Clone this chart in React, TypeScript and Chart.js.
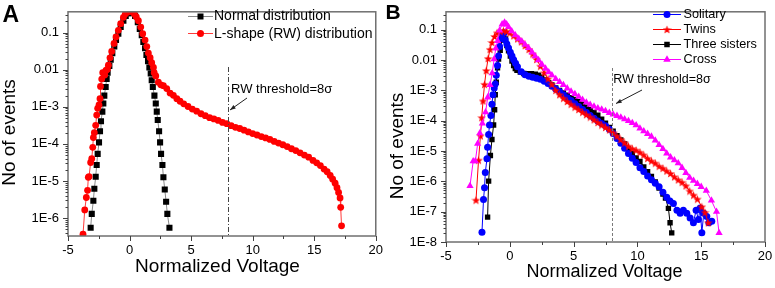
import React, { useEffect, useRef } from 'react';
import { Chart, registerables } from 'chart.js';

Chart.register(...registerables);

const FONT = "'Liberation Sans', Arial, Helvetica, sans-serif";

// ---------- Panel A data: [normalized voltage, events] ----------
const normalPoints: [number, number][] = [
  [-3.16, 5.5e-7], [-3.07, 1.3e-6], [-2.94, 2.95e-6], [-2.86, 6.2e-6], [-2.75, 1.3e-5],
  [-2.67, 2.7e-5], [-2.59, 5.4e-5], [-2.48, 1.1e-4], [-2.4, 2.2e-4], [-2.32, 4.1e-4],
  [-2.21, 7.4e-4], [-2.13, 1.23e-3], [-2.05, 2.0e-3], [-1.94, 3.4e-3], [-1.86, 5.6e-3],
  [-1.78, 8.3e-3], [-1.64, 0.0126], [-1.53, 0.0186], [-1.4, 0.028], [-1.24, 0.042],
  [-1.1, 0.063], [-0.91, 0.093], [-0.72, 0.141], [-0.5, 0.209], [-0.31, 0.282],
  [-0.15, 0.331], [0.04, 0.347], [0.2, 0.331], [0.45, 0.282], [0.67, 0.19],
  [0.83, 0.126], [0.99, 0.085], [1.12, 0.056], [1.26, 0.038], [1.37, 0.025],
  [1.5, 0.017], [1.61, 0.0115], [1.72, 7.9e-3], [1.8, 5.2e-3], [1.89, 3.4e-3],
  [2.02, 2.0e-3], [2.13, 1.23e-3], [2.21, 7.4e-4], [2.29, 4.4e-4], [2.4, 2.2e-4],
  [2.48, 1.1e-4], [2.56, 5.4e-5], [2.67, 2.7e-5], [2.75, 1.26e-5], [2.86, 5.9e-6],
  [2.97, 2.75e-6], [3.07, 1.3e-6], [3.24, 5.5e-7],
];

const rwPoints: [number, number][] = [
  [-3.78, 3.7e-7], [-3.64, 1.66e-6], [-3.51, 3.6e-6], [-3.41, 5.6e-6], [-3.35, 1.26e-5],
  [-3.29, 1.32e-5], [-3.16, 3.16e-5], [-3.07, 4.0e-5], [-2.99, 8.1e-5], [-2.94, 1.48e-4],
  [-2.86, 2.0e-4], [-2.75, 3.16e-4], [-2.67, 6.0e-4], [-2.59, 9.1e-4], [-2.48, 1.12e-3],
  [-2.4, 1.66e-3], [-2.36, 3.55e-3], [-2.26, 5.6e-3], [-2.18, 8.3e-3], [-2.02, 7.2e-3],
  [-1.92, 9.5e-3], [-1.8, 0.0102], [-1.72, 0.0132], [-1.59, 0.0209], [-1.45, 0.031],
  [-1.26, 0.051], [-1.1, 0.076], [-0.91, 0.115], [-0.72, 0.174], [-0.5, 0.257],
  [-0.35, 0.316], [-0.2, 0.355], [0.0, 0.38], [0.2, 0.363], [0.39, 0.316],
  [0.55, 0.263], [0.72, 0.209], [0.91, 0.141], [1.07, 0.093], [1.26, 0.063],
  [1.4, 0.042], [1.53, 0.028], [1.67, 0.021], [1.8, 0.0155], [1.94, 0.0115],
  [2.0, 8.3e-3], [2.13, 6.8e-3], [2.34, 4.6e-3], [2.54, 3.9e-3], [2.75, 3.7e-3],
  [3.02, 3.1e-3], [3.29, 2.34e-3], [3.56, 2.04e-3], [3.84, 1.66e-3], [4.1, 1.41e-3],
  [4.4, 1.2e-3], [4.75, 1.02e-3], [5.1, 8.7e-4], [5.45, 7.6e-4], [5.8, 6.5e-4],
  [6.15, 5.75e-4], [6.5, 5.1e-4], [6.85, 4.7e-4], [7.2, 4.3e-4], [7.55, 3.8e-4],
  [7.9, 3.5e-4], [8.25, 3.1e-4], [8.6, 2.8e-4], [8.95, 2.6e-4], [9.3, 2.34e-4],
  [9.65, 2.1e-4], [10.0, 1.9e-4], [10.35, 1.74e-4], [10.7, 1.58e-4], [11.05, 1.45e-4],
  [11.4, 1.32e-4], [11.75, 1.17e-4], [12.1, 1.05e-4], [12.45, 9.5e-5], [12.8, 8.5e-5],
  [13.15, 7.4e-5], [13.5, 6.6e-5], [13.85, 5.75e-5], [14.2, 5.0e-5], [14.55, 4.4e-5],
  [14.9, 3.6e-5], [15.2, 3.1e-5], [15.5, 2.6e-5], [15.8, 2.1e-5], [16.05, 1.78e-5],
  [16.3, 1.41e-5], [16.5, 1.12e-5], [16.7, 8.7e-6], [16.85, 6.6e-6], [16.98, 4.9e-6],
  [17.1, 3.5e-6], [17.15, 1.95e-6], [17.22, 6.2e-7],
];

// ---------- Panel B data ----------
const solitaryPoints: [number, number][] = [
  [-2.18, 2.1e-8], [-2.06, 2.5e-7], [-1.98, 6.2e-7], [-1.92, 1.95e-6], [-1.79, 5.6e-6],
  [-1.74, 1.32e-5], [-1.66, 3.5e-5], [-1.59, 7.2e-5], [-1.48, 1.48e-4], [-1.4, 3.5e-4],
  [-1.32, 7.2e-4], [-1.22, 1.2e-3], [-1.14, 1.62e-3], [-1.06, 3.16e-3], [-0.96, 6.6e-3],
  [-0.88, 0.0135], [-0.8, 0.028], [-0.67, 0.051], [-0.57, 0.074], [-0.45, 0.079],
  [-0.36, 0.046], [-0.23, 0.034], [-0.1, 0.025], [0.04, 0.018], [0.17, 0.0135],
  [0.3, 0.0102], [0.45, 7.9e-3], [0.6, 6.0e-3], [0.9, 4.1e-3], [1.2, 3.3e-3],
  [1.5, 2.95e-3], [1.8, 2.7e-3], [2.1, 2.5e-3], [2.4, 2.34e-3], [2.7, 2.0e-3],
  [3.0, 1.7e-3], [3.3, 1.38e-3], [3.6, 1.12e-3], [3.9, 9.1e-4], [4.2, 7.2e-4],
  [4.5, 5.75e-4], [4.8, 4.6e-4], [5.1, 3.6e-4], [5.4, 2.95e-4], [5.7, 2.34e-4],
  [6.0, 1.86e-4], [6.3, 1.48e-4], [6.6, 1.2e-4], [6.9, 9.8e-5], [7.2, 8.1e-5],
  [7.5, 6.8e-5], [7.8, 5.25e-5], [8.1, 3.8e-5], [8.4, 2.6e-5], [8.7, 1.82e-5],
  [9.0, 1.23e-5], [9.3, 8.3e-6], [9.6, 5.75e-6], [9.9, 4.2e-6], [10.2, 2.8e-6],
  [10.5, 2.1e-6], [10.8, 1.51e-6], [11.1, 1.12e-6], [11.4, 8.7e-7], [11.7, 6.6e-7],
  [12.0, 4.4e-7], [12.3, 3.0e-7], [12.55, 2.24e-7], [12.82, 1.86e-7], [13.1, 1.12e-7],
  [13.35, 8.9e-8], [13.6, 1.12e-7], [13.87, 8.9e-8], [14.13, 6.2e-8], [14.39, 4.3e-8],
  [14.6, 1.12e-7], [14.78, 5.5e-8], [14.92, 1.32e-7], [15.05, 2.0e-8], [15.2, 8.9e-8],
  [15.44, 6.9e-8], [15.6, 4.3e-8], [15.83, 4.8e-8],
];

const twinsPoints: [number, number][] = [
  [-2.65, 2.4e-7], [-2.45, 5.0e-6], [-2.3, 3.16e-5], [-2.2, 1.26e-4], [-2.1, 4.5e-4],
  [-1.98, 1.58e-3], [-1.85, 4.5e-3], [-1.7, 0.0112], [-1.55, 0.0224], [-1.4, 0.038],
  [-1.2, 0.06], [-1.0, 0.079], [-0.75, 0.089], [-0.5, 0.093], [-0.25, 0.089],
  [0.0, 0.079], [0.3, 0.063], [0.6, 0.05], [0.9, 0.04], [1.2, 0.03],
  [1.5, 0.0224], [1.8, 0.0158], [2.1, 0.0105], [2.4, 6.3e-3], [2.7, 3.8e-3],
  [3.0, 2.4e-3], [3.3, 1.58e-3], [3.6, 1.0e-3], [3.9, 7.2e-4], [4.2, 5.5e-4],
  [4.5, 4.3e-4], [4.8, 3.5e-4], [5.1, 2.8e-4], [5.4, 2.34e-4], [5.7, 1.9e-4],
  [6.0, 1.58e-4], [6.3, 1.32e-4], [6.6, 1.07e-4], [6.9, 8.7e-5], [7.2, 7.2e-5],
  [7.5, 6.0e-5], [7.8, 5.0e-5], [8.1, 4.0e-5], [8.4, 3.1e-5], [8.7, 2.4e-5],
  [9.0, 1.86e-5], [9.3, 1.45e-5], [9.6, 1.2e-5], [9.9, 1.07e-5], [10.2, 9.1e-6],
  [10.5, 7.4e-6], [10.8, 5.75e-6], [11.1, 4.7e-6], [11.4, 4.0e-6], [11.7, 3.16e-6],
  [12.0, 2.7e-6], [12.3, 2.2e-6], [12.6, 1.82e-6], [12.9, 1.41e-6], [13.2, 1.12e-6],
  [13.5, 9.3e-7], [13.8, 7.1e-7], [14.1, 4.8e-7], [14.4, 3.5e-7], [14.7, 2.6e-7],
  [15.05, 1.45e-7], [15.3, 9.5e-8], [15.55, 4.3e-8],
];

const threeSistersPoints: [number, number][] = [
  [-1.74, 6.6e-8], [-1.66, 1.02e-6], [-1.52, 7.1e-6], [-1.4, 2.4e-5], [-1.27, 7.2e-5],
  [-1.19, 2.3e-4], [-1.14, 7.2e-4], [-1.06, 1.86e-3], [-0.96, 5.5e-3], [-0.88, 0.0107],
  [-0.75, 0.021], [-0.61, 0.046], [-0.54, 0.066], [-0.45, 0.079], [-0.33, 0.05],
  [-0.23, 0.03], [-0.1, 0.02], [0.04, 0.0135], [0.17, 9.3e-3], [0.3, 6.6e-3],
  [0.43, 5.25e-3], [0.56, 4.6e-3], [0.82, 4.0e-3], [1.1, 3.6e-3], [1.4, 3.55e-3],
  [1.7, 3.55e-3], [2.0, 3.4e-3], [2.25, 3.16e-3], [2.5, 2.7e-3], [2.77, 2.2e-3],
  [3.05, 1.78e-3], [3.3, 1.51e-3], [3.6, 1.2e-3], [3.9, 1.0e-3], [4.2, 8.3e-4],
  [4.5, 6.9e-4], [4.8, 5.75e-4], [5.1, 5.0e-4], [5.4, 4.2e-4], [5.7, 3.5e-4],
  [6.0, 2.8e-4], [6.3, 2.3e-4], [6.6, 1.86e-4], [6.9, 1.51e-4], [7.2, 1.12e-4],
  [7.5, 8.3e-5], [7.8, 6.0e-5], [8.1, 4.5e-5], [8.4, 3.2e-5], [8.7, 2.34e-5],
  [9.0, 1.7e-5], [9.3, 1.17e-5], [9.6, 8.3e-6], [9.9, 5.9e-6], [10.2, 4.5e-6],
  [10.5, 3.0e-6], [10.8, 2.1e-6], [11.1, 1.45e-6], [11.4, 9.5e-7], [11.7, 6.0e-7],
  [12.0, 3.8e-7], [12.2, 2.8e-7], [12.43, 1.29e-7], [12.56, 4.3e-8], [12.69, 2.0e-8],
];

const crossPoints: [number, number][] = [
  [-3.12, 7.1e-7], [-2.87, 4.6e-6], [-2.7, 4.6e-6], [-2.52, 1.74e-5], [-2.35, 3.9e-5],
  [-2.15, 8.1e-5], [-1.9, 1.9e-4], [-1.73, 5.9e-4], [-1.55, 1.51e-3], [-1.38, 3.7e-3],
  [-1.23, 0.0107], [-1.1, 0.024], [-0.95, 0.043], [-0.8, 0.095], [-0.6, 0.151],
  [-0.41, 0.174], [-0.25, 0.151], [-0.1, 0.123], [0.15, 0.089], [0.43, 0.066],
  [0.7, 0.051], [0.95, 0.041], [1.2, 0.032], [1.47, 0.025], [1.75, 0.018],
  [1.99, 0.0135], [2.25, 0.01], [2.52, 7.1e-3], [2.8, 5.25e-3], [3.05, 4.0e-3],
  [3.3, 3.16e-3], [3.6, 2.4e-3], [3.9, 1.9e-3], [4.2, 1.51e-3], [4.5, 1.17e-3],
  [4.8, 9.3e-4], [5.1, 7.6e-4], [5.4, 6.2e-4], [5.7, 4.9e-4], [6.0, 4.0e-4],
  [6.3, 3.4e-4], [6.6, 2.95e-4], [6.9, 2.6e-4], [7.2, 2.34e-4], [7.5, 2.1e-4],
  [7.8, 1.82e-4], [8.1, 1.62e-4], [8.4, 1.45e-4], [8.7, 1.29e-4], [9.0, 1.12e-4],
  [9.3, 9.8e-5], [9.6, 8.5e-5], [9.9, 7.1e-5], [10.2, 5.6e-5], [10.5, 4.5e-5],
  [10.8, 3.7e-5], [11.1, 3.0e-5], [11.4, 2.24e-5], [11.7, 1.58e-5], [12.0, 1.17e-5],
  [12.3, 8.3e-6], [12.6, 6.2e-6], [12.9, 5.0e-6], [13.2, 4.0e-6], [13.5, 2.8e-6],
  [13.8, 1.9e-6], [14.1, 1.32e-6], [14.4, 1.05e-6], [14.7, 8.3e-7], [15.0, 6.6e-7],
  [15.4, 4.9e-7], [15.8, 2.34e-7], [16.2, 1.0e-7], [16.4, 2.0e-8],
];

// ---------- axes / labels ----------
const xTickValues = [-5, 0, 5, 10, 15, 20];
const xMinorValues = [-2.5, 2.5, 7.5, 12.5, 17.5];
const yTickValuesA = [0.1, 0.01, 1e-3, 1e-4, 1e-5, 1e-6];
const yTickLabelsA = ['0.1', '0.01', '1E-3', '1E-4', '1E-5', '1E-6'];
const yTickValuesB = [0.1, 0.01, 1e-3, 1e-4, 1e-5, 1e-6, 1e-7, 1e-8];
const yTickLabelsB = ['0.1', '0.01', '1E-3', '1E-4', '1E-5', '1E-6', '1E-7', '1E-8'];
const xTitle = 'Normalized Voltage';
const yTitle = 'No of events';
const thresholdSigma = 8;
const thresholdText = 'RW threshold=8\u03c3';
const legendLabelsA = ['Normal distribution', 'L-shape (RW) distribution'];
const legendLabelsB = ['Solitary', 'Twins', 'Three sisters', 'Cross'];

type Pt = [number, number];
const toXY = (pts: Pt[]) => pts.map(([x, y]) => ({ x, y }));

function makeStar(size: number, color: string): HTMLCanvasElement {
  const c = document.createElement('canvas');
  c.width = size;
  c.height = size;
  const g = c.getContext('2d')!;
  const cx = size / 2;
  const cy = size / 2 + size * 0.05;
  const R = size / 2;
  const r = R * 0.42;
  g.beginPath();
  for (let i = 0; i < 10; i++) {
    const rad = i % 2 === 0 ? R : r;
    const a = -Math.PI / 2 + (i * Math.PI) / 5;
    const px = cx + rad * Math.cos(a);
    const py = cy + rad * Math.sin(a);
    if (i === 0) g.moveTo(px, py);
    else g.lineTo(px, py);
  }
  g.closePath();
  g.fillStyle = color;
  g.fill();
  return c;
}

interface MarkerSpec {
  style: string;
  color: string;
  size: number;
  lineColor: string;
  image?: HTMLCanvasElement;
}

function drawMarker(ctx: CanvasRenderingContext2D, m: MarkerSpec, x: number, y: number) {
  ctx.fillStyle = m.color;
  const s = m.size;
  if (m.style === 'circle') {
    ctx.beginPath();
    ctx.arc(x, y, s / 2, 0, Math.PI * 2);
    ctx.fill();
  } else if (m.style === 'rect') {
    ctx.fillRect(x - s / 2, y - s / 2, s, s);
  } else if (m.style === 'triangle') {
    const r = s / Math.sqrt(3);
    ctx.beginPath();
    ctx.moveTo(x, y - r);
    ctx.lineTo(x + s / 2, y + r / 2);
    ctx.lineTo(x - s / 2, y + r / 2);
    ctx.closePath();
    ctx.fill();
  } else if (m.style === 'star' && m.image) {
    ctx.drawImage(m.image, x - m.image.width / 2, y - m.image.height / 2);
  }
}

interface DecorSpec {
  letter: string;
  letterX: number;
  letterY: number;
  letterSize: number;
  yTitleX: number;
  yTitleY: number;
  xTitleX: number;
  xTitleY: number;
  titleSize: number;
  xTitleSize: number;
  legendX1: number;
  legendX2: number;
  legendTextX: number;
  legendYs: number[];
  legendLabels: string[];
  legendMarkers: MarkerSpec[];
  legendFont: number;
  thrTop: number;
  thrDash: number[];
  thrColor: string;
  thrTextX: number;
  thrTextY: number;
  thrFont: number;
  arrow: [number, number, number, number];
  yMajor: number[];
}

function decorPlugin(d: DecorSpec) {
  return {
    id: 'decor',
    afterDraw(chart: any) {
      const ctx: CanvasRenderingContext2D = chart.ctx;
      const ca = chart.chartArea;
      const xs = chart.scales.x;
      const ys = chart.scales.y;
      ctx.save();

      // frame
      ctx.strokeStyle = '#6f6f6f';
      ctx.lineWidth = 1.5;
      ctx.strokeRect(ca.left, ca.top, ca.right - ca.left, ca.bottom - ca.top);

      // ticks (outward)
      ctx.strokeStyle = '#404040';
      ctx.lineWidth = 1;
      ctx.beginPath();
      for (const v of xTickValues) {
        const px = Math.round(xs.getPixelForValue(v)) + 0.5;
        ctx.moveTo(px, ca.bottom);
        ctx.lineTo(px, ca.bottom + 5);
      }
      for (const v of xMinorValues) {
        const px = Math.round(xs.getPixelForValue(v)) + 0.5;
        ctx.moveTo(px, ca.bottom);
        ctx.lineTo(px, ca.bottom + 3);
      }
      for (const v of d.yMajor) {
        const py = Math.round(ys.getPixelForValue(v)) + 0.5;
        ctx.moveTo(ca.left, py);
        ctx.lineTo(ca.left - 5, py);
      }
      const lo = Math.floor(Math.log10(ys.min));
      const hi = Math.ceil(Math.log10(ys.max));
      for (let e = lo; e <= hi; e++) {
        for (let m = 2; m <= 9; m++) {
          const v = m * Math.pow(10, e);
          if (v < ys.min || v > ys.max) continue;
          const py = Math.round(ys.getPixelForValue(v)) + 0.5;
          ctx.moveTo(ca.left, py);
          ctx.lineTo(ca.left - 2.5, py);
        }
      }
      ctx.stroke();

      // panel letter
      ctx.fillStyle = '#000';
      ctx.font = `bold ${d.letterSize}px ${FONT}`;
      ctx.textAlign = 'left';
      ctx.textBaseline = 'alphabetic';
      ctx.fillText(d.letter, d.letterX, d.letterY);

      // axis titles
      ctx.font = `${d.xTitleSize}px ${FONT}`;
      ctx.textAlign = 'center';
      ctx.textBaseline = 'middle';
      ctx.fillText(xTitle, d.xTitleX, d.xTitleY);
      ctx.save();
      ctx.translate(d.yTitleX, d.yTitleY);
      ctx.rotate(-Math.PI / 2);
      ctx.font = `${d.titleSize}px ${FONT}`;
      ctx.fillText(yTitle, 0, 0);
      ctx.restore();

      // threshold line
      const tx = xs.getPixelForValue(thresholdSigma);
      ctx.save();
      ctx.strokeStyle = d.thrColor;
      ctx.lineWidth = 1;
      ctx.setLineDash(d.thrDash);
      ctx.beginPath();
      ctx.moveTo(Math.round(tx) + 0.5, d.thrTop);
      ctx.lineTo(Math.round(tx) + 0.5, ca.bottom);
      ctx.stroke();
      ctx.restore();

      // threshold text
      ctx.fillStyle = '#000';
      ctx.font = `${d.thrFont}px ${FONT}`;
      ctx.textAlign = 'left';
      ctx.textBaseline = 'middle';
      ctx.fillText(thresholdText, d.thrTextX, d.thrTextY);

      // arrow
      const [ax1, ay1, ax2, ay2] = d.arrow;
      ctx.strokeStyle = '#222';
      ctx.lineWidth = 1;
      ctx.beginPath();
      ctx.moveTo(ax1, ay1);
      ctx.lineTo(ax2, ay2);
      ctx.stroke();
      const ang = Math.atan2(ay2 - ay1, ax2 - ax1);
      const hl = 6;
      ctx.fillStyle = '#222';
      ctx.beginPath();
      ctx.moveTo(ax2, ay2);
      ctx.lineTo(ax2 - hl * Math.cos(ang - 0.35), ay2 - hl * Math.sin(ang - 0.35));
      ctx.lineTo(ax2 - hl * Math.cos(ang + 0.35), ay2 - hl * Math.sin(ang + 0.35));
      ctx.closePath();
      ctx.fill();

      // legend
      ctx.font = `${d.legendFont}px ${FONT}`;
      ctx.textAlign = 'left';
      ctx.textBaseline = 'middle';
      d.legendLabels.forEach((label, i) => {
        const y = d.legendYs[i];
        const m = d.legendMarkers[i];
        ctx.strokeStyle = m.lineColor;
        ctx.lineWidth = 1;
        ctx.beginPath();
        ctx.moveTo(d.legendX1, Math.round(y) + 0.5);
        ctx.lineTo(d.legendX2, Math.round(y) + 0.5);
        ctx.stroke();
        drawMarker(ctx, m, (d.legendX1 + d.legendX2) / 2, Math.round(y) + 0.5);
        ctx.fillStyle = '#000';
        ctx.fillText(label, d.legendTextX, y + 0.5);
      });

      ctx.restore();
    },
  };
}

function makeConfig(opts: {
  datasets: any[];
  yMin: number;
  yMax: number;
  yTicks: number[];
  yLabels: string[];
  yWidth: number;
  xHeight: number;
  padding: { left: number; right: number; top: number; bottom: number };
  decor: DecorSpec;
}): any {
  const tickFont = { family: FONT, size: 13 };
  return {
    type: 'line',
    data: { datasets: opts.datasets },
    options: {
      animation: false,
      responsive: false,
      maintainAspectRatio: false,
      devicePixelRatio: 1,
      events: [],
      layout: { padding: opts.padding },
      plugins: {
        legend: { display: false },
        tooltip: { enabled: false },
        title: { display: false },
      },
      scales: {
        x: {
          type: 'linear',
          min: -5,
          max: 20,
          ticks: {
            font: tickFont,
            color: '#000',
            padding: 2,
            maxRotation: 0,
            autoSkip: false,
            callback: (v: number) => String(v),
          },
          grid: {
            display: true,
            drawOnChartArea: false,
            drawTicks: true,
            tickLength: 5,
            color: 'rgba(0,0,0,0)',
          },
          border: { display: false },
          afterBuildTicks: (s: any) => {
            s.ticks = xTickValues.map((value) => ({ value }));
          },
          afterFit: (s: any) => {
            s.height = opts.xHeight;
          },
        },
        y: {
          type: 'logarithmic',
          min: opts.yMin,
          max: opts.yMax,
          ticks: {
            font: tickFont,
            color: '#000',
            padding: 4,
            autoSkip: false,
            callback: (_v: number, i: number) => opts.yLabels[i],
          },
          grid: {
            display: true,
            drawOnChartArea: false,
            drawTicks: true,
            tickLength: 5,
            color: 'rgba(0,0,0,0)',
          },
          border: { display: false },
          afterBuildTicks: (s: any) => {
            s.ticks = opts.yTicks.map((value) => ({ value }));
          },
          afterFit: (s: any) => {
            s.width = opts.yWidth;
          },
        },
      },
    },
    plugins: [decorPlugin(opts.decor)],
  };
}

function ChartCanvas(props: { left: number; width: number; height: number; build: () => any }) {
  const ref = useRef<HTMLCanvasElement>(null);
  useEffect(() => {
    const chart = new Chart(ref.current as HTMLCanvasElement, props.build());
    return () => chart.destroy();
  }, []);
  return (
    <canvas
      ref={ref}
      width={props.width}
      height={props.height}
      style={{ position: 'absolute', left: props.left, top: 0, width: props.width, height: props.height }}
    />
  );
}

function buildA() {
  const datasets = [
    {
      label: legendLabelsA[0],
      data: toXY(normalPoints),
      borderColor: '#8a8a8a',
      borderWidth: 1,
      pointStyle: 'rect',
      pointRadius: 4.3,
      pointBackgroundColor: '#000',
      pointBorderColor: '#000',
      pointBorderWidth: 0,
      tension: 0,
      order: 2,
    },
    {
      label: legendLabelsA[1],
      data: toXY(rwPoints),
      borderColor: '#ff3b3b',
      borderWidth: 1,
      pointStyle: 'circle',
      pointRadius: 3.4,
      pointBackgroundColor: '#ff0000',
      pointBorderColor: '#ff0000',
      pointBorderWidth: 0,
      tension: 0,
      order: 1,
    },
  ];
  const decor: DecorSpec = {
    letter: 'A',
    letterX: 2.5,
    letterY: 21.7,
    letterSize: 23,
    yTitleX: 10,
    yTitleY: 132.5,
    xTitleX: 217.5,
    xTitleY: 266.5,
    titleSize: 19,
    xTitleSize: 19,
    legendX1: 188,
    legendX2: 213,
    legendTextX: 214,
    legendYs: [15.7, 33.3],
    legendLabels: legendLabelsA,
    legendMarkers: [
      { style: 'rect', color: '#000', size: 6, lineColor: '#8a8a8a' },
      { style: 'circle', color: '#ff0000', size: 7, lineColor: '#ff3b3b' },
    ],
    legendFont: 14,
    thrTop: 67,
    thrDash: [5, 2, 1, 2],
    thrColor: '#444',
    thrTextX: 231,
    thrTextY: 89,
    thrFont: 13,
    arrow: [247, 98, 230, 110],
    yMajor: yTickValuesA,
  };
  return makeConfig({
    datasets,
    yMin: 3.3e-7,
    yMax: 0.363,
    yTicks: yTickValuesA,
    yLabels: yTickLabelsA,
    yWidth: 68,
    xHeight: 52,
    padding: { left: 0, right: 9, top: 6, bottom: 0 },
    decor,
  });
}

function buildB() {
  const star = makeStar(9, '#ff0000');
  const datasets = [
    {
      label: legendLabelsB[0],
      data: toXY(solitaryPoints),
      borderColor: '#0000ff',
      borderWidth: 1,
      pointStyle: 'circle',
      pointRadius: 3.5,
      pointBackgroundColor: '#0000ff',
      pointBorderColor: '#0000ff',
      pointBorderWidth: 0,
      tension: 0,
      order: 3,
    },
    {
      label: legendLabelsB[1],
      data: toXY(twinsPoints),
      borderColor: '#ff0000',
      borderWidth: 1,
      pointStyle: star,
      pointRadius: 4,
      pointBackgroundColor: '#ff0000',
      pointBorderColor: '#ff0000',
      pointBorderWidth: 0,
      tension: 0,
      order: 2,
    },
    {
      label: legendLabelsB[2],
      data: toXY(threeSistersPoints),
      borderColor: '#000000',
      borderWidth: 1,
      pointStyle: 'rect',
      pointRadius: 3.8,
      pointBackgroundColor: '#000',
      pointBorderColor: '#000',
      pointBorderWidth: 0,
      tension: 0,
      order: 4,
    },
    {
      label: legendLabelsB[3],
      data: toXY(crossPoints),
      borderColor: '#ff00ff',
      borderWidth: 1,
      pointStyle: 'triangle',
      pointRadius: 4.2,
      pointBackgroundColor: '#ff00ff',
      pointBorderColor: '#ff00ff',
      pointBorderWidth: 0,
      tension: 0,
      order: 1,
    },
  ];
  const decor: DecorSpec = {
    letter: 'B',
    letterX: 0.5,
    letterY: 18.5,
    letterSize: 21,
    yTitleX: 13,
    yTitleY: 146,
    xTitleX: 219.5,
    xTitleY: 272,
    titleSize: 19,
    xTitleSize: 18,
    legendX1: 268,
    legendX2: 296,
    legendTextX: 298.5,
    legendYs: [14, 29, 44, 59.3],
    legendLabels: legendLabelsB,
    legendMarkers: [
      { style: 'circle', color: '#0000ff', size: 7, lineColor: '#0000ff' },
      { style: 'star', color: '#ff0000', size: 9, lineColor: '#ff0000', image: star },
      { style: 'rect', color: '#000', size: 5.5, lineColor: '#000' },
      { style: 'triangle', color: '#ff00ff', size: 7.5, lineColor: '#ff00ff' },
    ],
    legendFont: 12.7,
    thrTop: 68,
    thrDash: [3, 2],
    thrColor: '#7a7a7a',
    thrTextX: 228.3,
    thrTextY: 80,
    thrFont: 12.5,
    arrow: [257, 90, 231, 103.5],
    yMajor: yTickValuesB,
  };
  return makeConfig({
    datasets,
    yMin: 1e-8,
    yMax: 0.39,
    yTicks: yTickValuesB,
    yLabels: yTickLabelsB,
    yWidth: 61,
    xHeight: 46,
    padding: { left: 0, right: 10, top: 4, bottom: 0 },
    decor,
  });
}

export default function App() {
  return (
    <div
      style={{
        position: 'absolute',
        left: 0,
        top: 0,
        width: 775,
        height: 288,
        background: '#ffffff',
        overflow: 'hidden',
      }}
    >
      <ChartCanvas left={0} width={385} height={288} build={buildA} />
      <ChartCanvas left={385} width={390} height={288} build={buildB} />
    </div>
  );
}
